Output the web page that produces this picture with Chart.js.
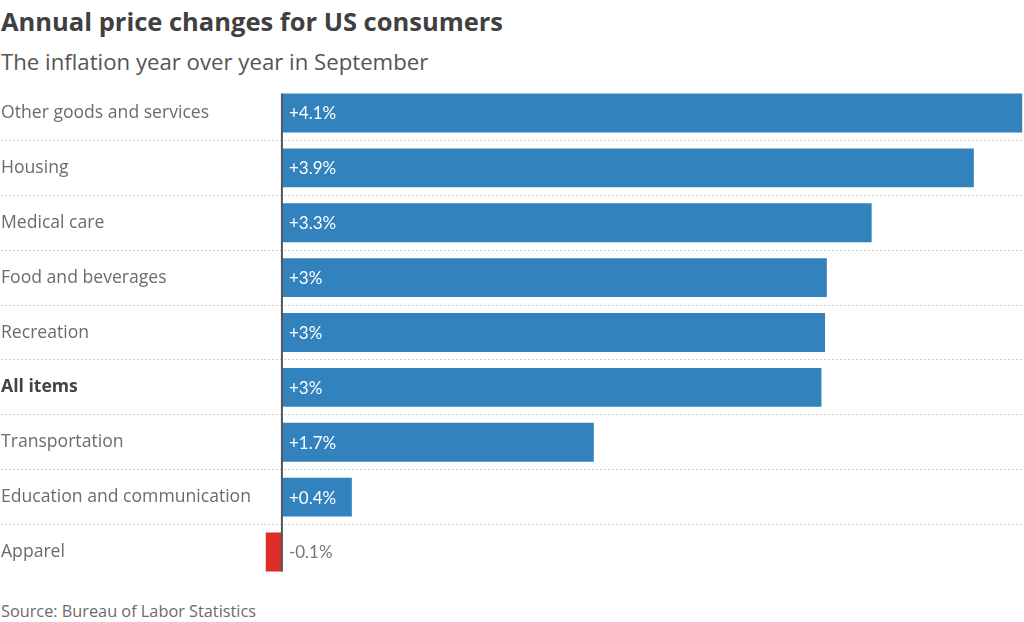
<!DOCTYPE html>
<html lang="en">
<head>
    <meta charset="UTF-8">
    <title>Annual price changes for US consumers</title>
    <style>
        body { margin: 0; width: 1024px; height: 622px; background: #fff; font-family: "Open Sans", Lato, sans-serif; position: relative; overflow: hidden; }
        .title { position: absolute; left: 1px; top: 3px; font-size: 25.5px; line-height: 36px; font-weight: bold; color: #404040; }
        .subtitle { position: absolute; left: 1px; top: 46px; font-size: 22.2px; line-height: 32px; font-weight: 400; color: #555; }
        .chart-box { position: absolute; left: 0; top: 72px; width: 1024px; height: 521px; }
        .source { position: absolute; left: 1px; top: 599px; font-size: 16.3px; line-height: 24px; font-weight: 400; color: #6b6b6b; }
    </style>
</head>
<body>
    <div class="title">Annual price changes for US consumers</div>
    <div class="subtitle">The inflation year over year in September</div>
    <div class="chart-box"><canvas id="barChart"></canvas></div>
    <div class="source">Source: Bureau of Labor Statistics</div>

    <script src="https://cdn.jsdelivr.net/npm/chart.js"></script>
    <script>
        // values
        const categories = ['Other goods and services', 'Housing', 'Medical care', 'Food and beverages',
            'Recreation', 'All items', 'Transportation', 'Education and communication', 'Apparel'];
        const changes = [4.13, 3.86, 3.29, 3.04, 3.03, 3.01, 1.74, 0.39, -0.09];
        const highlight = 'All items';

        const BLUE = '#3282bd';
        const RED = '#de2d26';

        function fmt(v) {
            return (v > 0 ? '+' : '') + v.toFixed(1).replace(/\.0$/, '') + '%';
        }

        // zero line from first to last bar + value labels
        const barExtras = {
            id: 'barExtras',
            afterDatasetsDraw(chart) {
                const ctx = chart.ctx;
                const x0 = chart.scales.x.getPixelForValue(0);
                const bars = chart.getDatasetMeta(0).data;
                const first = bars[0], last = bars[bars.length - 1];
                ctx.save();
                ctx.strokeStyle = '#555';
                ctx.lineWidth = 2;
                ctx.beginPath();
                ctx.moveTo(x0, first.y - first.height / 2);
                ctx.lineTo(x0, last.y + last.height / 2);
                ctx.stroke();

                ctx.font = '17px Lato, "Open Sans", sans-serif';
                ctx.textBaseline = 'middle';
                ctx.textAlign = 'left';
                bars.forEach((bar, i) => {
                    const v = changes[i];
                    ctx.fillStyle = v > 0 ? '#fff' : '#777';
                    ctx.fillText(fmt(v), x0 + 7, bar.y + 1);
                });
                ctx.restore();
            }
        };

        new Chart(document.getElementById('barChart'), {
            type: 'bar',
            data: {
                labels: categories,
                datasets: [{
                    data: changes,
                    backgroundColor: changes.map(v => v < 0 ? RED : BLUE),
                    borderWidth: 0,
                    barPercentage: 0.71,
                    categoryPercentage: 1
                }]
            },
            options: {
                indexAxis: 'y',
                responsive: true,
                maintainAspectRatio: false,
                animation: false,
                layout: { padding: { left: 1, right: 0, top: 0, bottom: 0 } },
                plugins: {
                    legend: { display: false },
                    tooltip: { enabled: false }
                },
                scales: {
                    x: {
                        display: false,
                        min: -0.1,
                        max: 4.14
                    },
                    y: {
                        afterFit(scale) { scale.width = 263; },
                        grid: {
                            offset: true,
                            color: c => (c.index > 0 ? '#cfcfcf' : 'rgba(0,0,0,0)'),
                            lineWidth: 1,
                            drawTicks: true,
                            tickLength: 263,
                            tickBorderDash: [2, 2]
                        },
                        border: { display: false, dash: [2, 2] },
                        ticks: {
                            autoSkip: false,
                            crossAlign: 'far',
                            color: c => (categories[c.index] === highlight ? '#444' : '#6b6b6b'),
                            font: c => ({
                                family: '"Open Sans", Lato, sans-serif',
                                size: 17.6,
                                weight: categories[c.index] === highlight ? 'bold' : '400'
                            })
                        }
                    }
                }
            },
            plugins: [barExtras]
        });
    </script>
</body>
</html>
